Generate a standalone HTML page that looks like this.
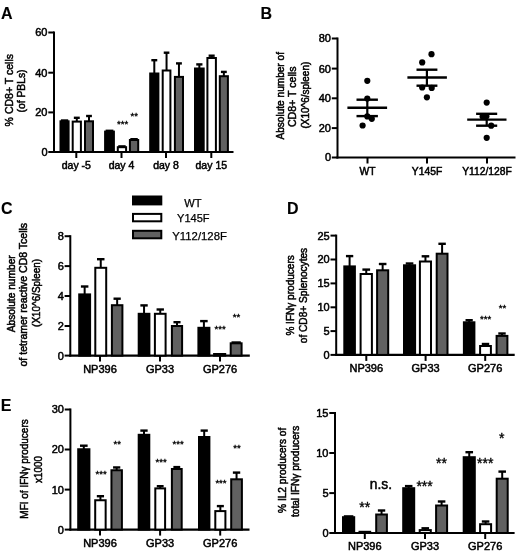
<!DOCTYPE html>
<html><head><meta charset="utf-8"><style>
html,body{margin:0;padding:0;background:#fff;}
svg{display:block;will-change:transform;filter:blur(0.3px);}
text{font-family:"Liberation Sans", sans-serif;fill:#000;stroke:#000;stroke-width:0.5px;}
</style></head><body>
<svg width="520" height="553" viewBox="0 0 520 553">
<rect width="520" height="553" fill="#fff"/>
<text x="1" y="18.5" font-size="16" font-weight="bold" style="stroke-width:0.1px">A</text>
<text x="260.6" y="18.5" font-size="16" font-weight="bold" style="stroke-width:0.1px">B</text>
<text x="1" y="213.5" font-size="16" font-weight="bold" style="stroke-width:0.1px">C</text>
<text x="286.9" y="213.8" font-size="16" font-weight="bold" style="stroke-width:0.1px">D</text>
<text x="0.7" y="410.8" font-size="16" font-weight="bold" style="stroke-width:0.1px">E</text>
<line x1="54" y1="31.5" x2="54" y2="153" stroke="#000" stroke-width="2"/>
<line x1="48.3" y1="32.5" x2="54" y2="32.5" stroke="#000" stroke-width="2"/>
<text x="47.5" y="36.4" font-size="11" text-anchor="end" >60</text>
<line x1="48.3" y1="72.7" x2="54" y2="72.7" stroke="#000" stroke-width="2"/>
<text x="47.5" y="76.60000000000001" font-size="11" text-anchor="end" >40</text>
<line x1="48.3" y1="112.4" x2="54" y2="112.4" stroke="#000" stroke-width="2"/>
<text x="47.5" y="116.30000000000001" font-size="11" text-anchor="end" >20</text>
<line x1="48.3" y1="152" x2="54" y2="152" stroke="#000" stroke-width="2"/>
<text x="47.5" y="155.9" font-size="11" text-anchor="end" >0</text>
<line x1="53" y1="152" x2="233.5" y2="152" stroke="#000" stroke-width="2.2"/>
<line x1="76.3" y1="152" x2="76.3" y2="158" stroke="#000" stroke-width="2"/>
<text x="76.3" y="168.5" font-size="10.5" text-anchor="middle" >day -5</text>
<line x1="121.5" y1="152" x2="121.5" y2="158" stroke="#000" stroke-width="2"/>
<text x="121.5" y="168.5" font-size="10.5" text-anchor="middle" >day 4</text>
<line x1="166" y1="152" x2="166" y2="158" stroke="#000" stroke-width="2"/>
<text x="166" y="168.5" font-size="10.5" text-anchor="middle" >day 8</text>
<line x1="211.3" y1="152" x2="211.3" y2="158" stroke="#000" stroke-width="2"/>
<text x="211.3" y="168.5" font-size="10.5" text-anchor="middle" >day 15</text>
<line x1="64.55000000000001" y1="121.3" x2="64.55000000000001" y2="120.5" stroke="#000" stroke-width="2"/>
<line x1="60.91400000000001" y1="120.5" x2="68.186" y2="120.5" stroke="#000" stroke-width="2.4"/>
<rect x="60.5" y="121.3" width="8.100000000000009" height="30.700000000000003" fill="#000" stroke="#000" stroke-width="2"/>
<line x1="76.80000000000001" y1="121.6" x2="76.80000000000001" y2="117.8" stroke="#000" stroke-width="2"/>
<line x1="73.84200000000001" y1="117.8" x2="79.75800000000001" y2="117.8" stroke="#000" stroke-width="2.4"/>
<rect x="72.7" y="121.6" width="8.200000000000003" height="30.400000000000006" fill="#fff" stroke="#000" stroke-width="2"/>
<line x1="89.0" y1="121.3" x2="89.0" y2="116.0" stroke="#000" stroke-width="2"/>
<line x1="86.1" y1="116.0" x2="91.9" y2="116.0" stroke="#000" stroke-width="2.4"/>
<rect x="85.0" y="121.3" width="8.0" height="30.700000000000003" fill="#616161" stroke="#000" stroke-width="2"/>
<line x1="109.5" y1="131.6" x2="109.5" y2="130.79999999999998" stroke="#000" stroke-width="2"/>
<line x1="105.612" y1="130.79999999999998" x2="113.388" y2="130.79999999999998" stroke="#000" stroke-width="2.4"/>
<rect x="105.10000000000001" y="131.6" width="8.799999999999997" height="20.400000000000006" fill="#000" stroke="#000" stroke-width="2"/>
<line x1="121.95" y1="147.2" x2="121.95" y2="146.39999999999998" stroke="#000" stroke-width="2"/>
<line x1="118.242" y1="146.39999999999998" x2="125.658" y2="146.39999999999998" stroke="#000" stroke-width="2.4"/>
<rect x="117.8" y="147.2" width="8.300000000000011" height="4.800000000000011" fill="#fff" stroke="#000" stroke-width="2"/>
<line x1="134.05" y1="140" x2="134.05" y2="139.2" stroke="#000" stroke-width="2"/>
<line x1="130.34199999999998" y1="139.2" x2="137.75800000000004" y2="139.2" stroke="#000" stroke-width="2.4"/>
<rect x="129.89999999999998" y="140" width="8.30000000000004" height="12" fill="#616161" stroke="#000" stroke-width="2"/>
<line x1="154.3" y1="73.5" x2="154.3" y2="60.2" stroke="#000" stroke-width="2"/>
<line x1="151.342" y1="60.2" x2="157.258" y2="60.2" stroke="#000" stroke-width="2.4"/>
<rect x="150.2" y="73.5" width="8.200000000000017" height="78.5" fill="#000" stroke="#000" stroke-width="2"/>
<line x1="166.55" y1="70.5" x2="166.55" y2="52.7" stroke="#000" stroke-width="2"/>
<line x1="163.737" y1="52.7" x2="169.36300000000003" y2="52.7" stroke="#000" stroke-width="2.4"/>
<rect x="162.7" y="70.5" width="7.700000000000017" height="81.5" fill="#fff" stroke="#000" stroke-width="2"/>
<line x1="178.95" y1="76.9" x2="178.95" y2="63.400000000000006" stroke="#000" stroke-width="2"/>
<line x1="176.021" y1="63.400000000000006" x2="181.879" y2="63.400000000000006" stroke="#000" stroke-width="2.4"/>
<rect x="174.89999999999998" y="76.9" width="8.100000000000023" height="75.1" fill="#616161" stroke="#000" stroke-width="2"/>
<line x1="199.35000000000002" y1="68.5" x2="199.35000000000002" y2="64.4" stroke="#000" stroke-width="2"/>
<line x1="196.247" y1="64.4" x2="202.45300000000003" y2="64.4" stroke="#000" stroke-width="2.4"/>
<rect x="195.0" y="68.5" width="8.700000000000017" height="83.5" fill="#000" stroke="#000" stroke-width="2"/>
<line x1="211.64999999999998" y1="58" x2="211.64999999999998" y2="55.7" stroke="#000" stroke-width="2"/>
<line x1="208.60499999999996" y1="55.7" x2="214.695" y2="55.7" stroke="#000" stroke-width="2.4"/>
<rect x="207.39999999999998" y="58" width="8.500000000000028" height="94" fill="#fff" stroke="#000" stroke-width="2"/>
<line x1="223.85" y1="76.2" x2="223.85" y2="71.9" stroke="#000" stroke-width="2"/>
<line x1="220.921" y1="71.9" x2="226.779" y2="71.9" stroke="#000" stroke-width="2.4"/>
<rect x="219.79999999999998" y="76.2" width="8.100000000000023" height="75.8" fill="#616161" stroke="#000" stroke-width="2"/>
<text x="122.6" y="127.372" font-size="9.6" text-anchor="middle" style="stroke-width:0.35px">***</text>
<text x="134.2" y="119.072" font-size="9.6" text-anchor="middle" style="stroke-width:0.35px">**</text>
<text x="12.7" y="90.2" font-size="10.9" text-anchor="middle" textLength="72.4" lengthAdjust="spacingAndGlyphs" transform="rotate(-90 12.7 90.2)" >% CD8+ T cells</text>
<text x="25" y="91" font-size="10.6" text-anchor="middle" textLength="43.1" lengthAdjust="spacingAndGlyphs" transform="rotate(-90 25 91)" >(of PBLs)</text>
<line x1="337.5" y1="37.5" x2="337.5" y2="158.5" stroke="#000" stroke-width="2"/>
<line x1="331.8" y1="38.5" x2="337.5" y2="38.5" stroke="#000" stroke-width="2"/>
<text x="331.0" y="42.4" font-size="11" text-anchor="end" >80</text>
<line x1="331.8" y1="68.6" x2="337.5" y2="68.6" stroke="#000" stroke-width="2"/>
<text x="331.0" y="72.5" font-size="11" text-anchor="end" >60</text>
<line x1="331.8" y1="98.3" x2="337.5" y2="98.3" stroke="#000" stroke-width="2"/>
<text x="331.0" y="102.2" font-size="11" text-anchor="end" >40</text>
<line x1="331.8" y1="128.1" x2="337.5" y2="128.1" stroke="#000" stroke-width="2"/>
<text x="331.0" y="132.0" font-size="11" text-anchor="end" >20</text>
<line x1="331.8" y1="157.5" x2="337.5" y2="157.5" stroke="#000" stroke-width="2"/>
<text x="331.0" y="161.4" font-size="11" text-anchor="end" >0</text>
<line x1="336.5" y1="157.5" x2="515.5" y2="157.5" stroke="#000" stroke-width="2.2"/>
<line x1="367.5" y1="157.5" x2="367.5" y2="163.5" stroke="#000" stroke-width="2"/>
<text x="367.5" y="175.3" font-size="10.3" text-anchor="middle" >WT</text>
<line x1="427" y1="157.5" x2="427" y2="163.5" stroke="#000" stroke-width="2"/>
<text x="427" y="175.3" font-size="10.3" text-anchor="middle" >Y145F</text>
<line x1="487" y1="157.5" x2="487" y2="163.5" stroke="#000" stroke-width="2"/>
<text x="487" y="175.3" font-size="10.3" text-anchor="middle" >Y112/128F</text>
<circle cx="367.3" cy="80.8" r="3.1" fill="#000"/>
<circle cx="367.3" cy="98.6" r="3.1" fill="#000"/>
<circle cx="367.3" cy="116.4" r="3.1" fill="#000"/>
<circle cx="371.8" cy="118.8" r="3.1" fill="#000"/>
<circle cx="362.6" cy="125.5" r="3.1" fill="#000"/>
<line x1="347.4" y1="107.8" x2="387.1" y2="107.8" stroke="#000" stroke-width="2.4"/>
<line x1="356.5" y1="99.7" x2="377.9" y2="99.7" stroke="#000" stroke-width="2.4"/>
<line x1="356.5" y1="116.1" x2="377.9" y2="116.1" stroke="#000" stroke-width="2.4"/>
<line x1="367.3" y1="99.7" x2="367.3" y2="116.1" stroke="#000" stroke-width="2.2"/>
<circle cx="431.5" cy="54.2" r="3.1" fill="#000"/>
<circle cx="422.2" cy="62.4" r="3.1" fill="#000"/>
<circle cx="422.2" cy="87.5" r="3.1" fill="#000"/>
<circle cx="431.7" cy="87.9" r="3.1" fill="#000"/>
<circle cx="426.9" cy="97.3" r="3.1" fill="#000"/>
<line x1="407.4" y1="77.5" x2="446.9" y2="77.5" stroke="#000" stroke-width="2.4"/>
<line x1="416.5" y1="69.7" x2="437.4" y2="69.7" stroke="#000" stroke-width="2.4"/>
<line x1="416.5" y1="85.7" x2="437.4" y2="85.7" stroke="#000" stroke-width="2.4"/>
<line x1="426.9" y1="69.7" x2="426.9" y2="85.7" stroke="#000" stroke-width="2.2"/>
<circle cx="486.7" cy="102.6" r="3.1" fill="#000"/>
<circle cx="482.6" cy="116.6" r="3.1" fill="#000"/>
<circle cx="486.4" cy="116.2" r="3.1" fill="#000"/>
<circle cx="491.2" cy="125.7" r="3.1" fill="#000"/>
<circle cx="486.7" cy="137.8" r="3.1" fill="#000"/>
<line x1="467.2" y1="119.6" x2="506.5" y2="119.6" stroke="#000" stroke-width="2.4"/>
<line x1="476.1" y1="113.8" x2="497.2" y2="113.8" stroke="#000" stroke-width="2.4"/>
<line x1="476.1" y1="125.7" x2="497.2" y2="125.7" stroke="#000" stroke-width="2.4"/>
<line x1="486.7" y1="113.8" x2="486.7" y2="125.7" stroke="#000" stroke-width="2.2"/>
<text x="284" y="95.8" font-size="10" text-anchor="middle" textLength="87.5" lengthAdjust="spacingAndGlyphs" transform="rotate(-90 284 95.8)" >Absolute number of</text>
<text x="296.1" y="96.8" font-size="10.4" text-anchor="middle" textLength="60.6" lengthAdjust="spacingAndGlyphs" transform="rotate(-90 296.1 96.8)" >CD8+ T cells</text>
<text x="308.8" y="95.1" font-size="10" text-anchor="middle" textLength="66.8" lengthAdjust="spacingAndGlyphs" transform="rotate(-90 308.8 95.1)" >(X10^6/spleen)</text>
<rect x="133" y="196.5" width="28.3" height="7.9" fill="#000" stroke="#000" stroke-width="2"/>
<rect x="133" y="213.9" width="28.3" height="7.4" fill="#fff" stroke="#000" stroke-width="2"/>
<rect x="133" y="230.8" width="28.3" height="7.5" fill="#616161" stroke="#000" stroke-width="2"/>
<text x="184.3" y="206.7" font-size="11.2" textLength="17.3" lengthAdjust="spacingAndGlyphs" style="stroke-width:0.25px">WT</text>
<text x="177" y="222.2" font-size="11.2" textLength="32.6" lengthAdjust="spacingAndGlyphs" style="stroke-width:0.25px">Y145F</text>
<text x="172.3" y="239.6" font-size="11.2" textLength="54.6" lengthAdjust="spacingAndGlyphs" style="stroke-width:0.25px">Y112/128F</text>
<line x1="70.3" y1="235.2" x2="70.3" y2="356.6" stroke="#000" stroke-width="2"/>
<line x1="64.6" y1="236.2" x2="70.3" y2="236.2" stroke="#000" stroke-width="2"/>
<text x="63.8" y="240.1" font-size="11" text-anchor="end" >8</text>
<line x1="64.6" y1="266.1" x2="70.3" y2="266.1" stroke="#000" stroke-width="2"/>
<text x="63.8" y="270.0" font-size="11" text-anchor="end" >6</text>
<line x1="64.6" y1="296" x2="70.3" y2="296" stroke="#000" stroke-width="2"/>
<text x="63.8" y="299.9" font-size="11" text-anchor="end" >4</text>
<line x1="64.6" y1="326" x2="70.3" y2="326" stroke="#000" stroke-width="2"/>
<text x="63.8" y="329.9" font-size="11" text-anchor="end" >2</text>
<line x1="64.6" y1="355.6" x2="70.3" y2="355.6" stroke="#000" stroke-width="2"/>
<text x="63.8" y="359.5" font-size="11" text-anchor="end" >0</text>
<line x1="69.3" y1="355.6" x2="249.8" y2="355.6" stroke="#000" stroke-width="2.2"/>
<line x1="100" y1="355.6" x2="100" y2="361.6" stroke="#000" stroke-width="2"/>
<text x="100" y="372.6" font-size="11" text-anchor="middle" >NP396</text>
<line x1="160" y1="355.6" x2="160" y2="361.6" stroke="#000" stroke-width="2"/>
<text x="160" y="372.6" font-size="11" text-anchor="middle" >GP33</text>
<line x1="220" y1="355.6" x2="220" y2="361.6" stroke="#000" stroke-width="2"/>
<text x="220" y="372.6" font-size="11" text-anchor="middle" >GP276</text>
<line x1="84.65" y1="294.4" x2="84.65" y2="286.5" stroke="#000" stroke-width="2"/>
<line x1="80.909" y1="286.5" x2="88.391" y2="286.5" stroke="#000" stroke-width="2.4"/>
<rect x="79.2" y="294.4" width="10.900000000000006" height="61.200000000000045" fill="#000" stroke="#000" stroke-width="2"/>
<line x1="100.75" y1="267.8" x2="100.75" y2="259.2" stroke="#000" stroke-width="2"/>
<line x1="97.009" y1="259.2" x2="104.491" y2="259.2" stroke="#000" stroke-width="2.4"/>
<rect x="95.3" y="267.8" width="10.900000000000006" height="87.80000000000001" fill="#fff" stroke="#000" stroke-width="2"/>
<line x1="117.15" y1="305.2" x2="117.15" y2="298.7" stroke="#000" stroke-width="2"/>
<line x1="113.525" y1="298.7" x2="120.775" y2="298.7" stroke="#000" stroke-width="2.4"/>
<rect x="111.9" y="305.2" width="10.5" height="50.400000000000034" fill="#616161" stroke="#000" stroke-width="2"/>
<line x1="144.05" y1="313.8" x2="144.05" y2="305.4" stroke="#000" stroke-width="2"/>
<line x1="140.36700000000002" y1="305.4" x2="147.733" y2="305.4" stroke="#000" stroke-width="2.4"/>
<rect x="138.7" y="313.8" width="10.700000000000017" height="41.80000000000001" fill="#000" stroke="#000" stroke-width="2"/>
<line x1="160.25" y1="313.8" x2="160.25" y2="309.5" stroke="#000" stroke-width="2"/>
<line x1="156.567" y1="309.5" x2="163.933" y2="309.5" stroke="#000" stroke-width="2.4"/>
<rect x="154.89999999999998" y="313.8" width="10.700000000000017" height="41.80000000000001" fill="#fff" stroke="#000" stroke-width="2"/>
<line x1="177.0" y1="326" x2="177.0" y2="322.2" stroke="#000" stroke-width="2"/>
<line x1="173.462" y1="322.2" x2="180.538" y2="322.2" stroke="#000" stroke-width="2.4"/>
<rect x="171.89999999999998" y="326" width="10.200000000000017" height="29.600000000000023" fill="#616161" stroke="#000" stroke-width="2"/>
<line x1="203.89999999999998" y1="327.8" x2="203.89999999999998" y2="321.09999999999997" stroke="#000" stroke-width="2"/>
<line x1="200.12999999999997" y1="321.09999999999997" x2="207.67" y2="321.09999999999997" stroke="#000" stroke-width="2.4"/>
<rect x="198.39999999999998" y="327.8" width="11.000000000000028" height="27.80000000000001" fill="#000" stroke="#000" stroke-width="2"/>
<rect x="214.1" y="354" width="11.100000000000023" height="1.6000000000000227" fill="#fff" stroke="#000" stroke-width="2"/>
<line x1="236.14999999999998" y1="343.3" x2="236.14999999999998" y2="342.5" stroke="#000" stroke-width="2"/>
<line x1="231.50599999999997" y1="342.5" x2="240.79399999999998" y2="342.5" stroke="#000" stroke-width="2.4"/>
<rect x="230.7" y="343.3" width="10.900000000000006" height="12.300000000000011" fill="#616161" stroke="#000" stroke-width="2"/>
<text x="220.2" y="332.472" font-size="9.6" text-anchor="middle" style="stroke-width:0.35px">***</text>
<text x="236.6" y="319.67199999999997" font-size="9.6" text-anchor="middle" style="stroke-width:0.35px">**</text>
<text x="15.5" y="293.8" font-size="10.2" text-anchor="middle" textLength="77" lengthAdjust="spacingAndGlyphs" transform="rotate(-90 15.5 293.8)" >Absolute number</text>
<text x="27.4" y="294.7" font-size="10.2" text-anchor="middle" textLength="143.6" lengthAdjust="spacingAndGlyphs" transform="rotate(-90 27.4 294.7)" >of tetramer reactive CD8 Tcells</text>
<text x="40.4" y="292.9" font-size="10.2" text-anchor="middle" textLength="68" lengthAdjust="spacingAndGlyphs" transform="rotate(-90 40.4 292.9)" >(X10^6/Spleen)</text>
<line x1="336.2" y1="234.6" x2="336.2" y2="355.9" stroke="#000" stroke-width="2"/>
<line x1="330.5" y1="235.6" x2="336.2" y2="235.6" stroke="#000" stroke-width="2"/>
<text x="329.7" y="239.5" font-size="11" text-anchor="end" >25</text>
<line x1="330.5" y1="259.5" x2="336.2" y2="259.5" stroke="#000" stroke-width="2"/>
<text x="329.7" y="263.4" font-size="11" text-anchor="end" >20</text>
<line x1="330.5" y1="283.4" x2="336.2" y2="283.4" stroke="#000" stroke-width="2"/>
<text x="329.7" y="287.29999999999995" font-size="11" text-anchor="end" >15</text>
<line x1="330.5" y1="307.3" x2="336.2" y2="307.3" stroke="#000" stroke-width="2"/>
<text x="329.7" y="311.2" font-size="11" text-anchor="end" >10</text>
<line x1="330.5" y1="331.1" x2="336.2" y2="331.1" stroke="#000" stroke-width="2"/>
<text x="329.7" y="335.0" font-size="11" text-anchor="end" >5</text>
<line x1="330.5" y1="354.9" x2="336.2" y2="354.9" stroke="#000" stroke-width="2"/>
<text x="329.7" y="358.79999999999995" font-size="11" text-anchor="end" >0</text>
<line x1="335.2" y1="354.9" x2="514.7" y2="354.9" stroke="#000" stroke-width="2.2"/>
<line x1="366.3" y1="354.9" x2="366.3" y2="360.9" stroke="#000" stroke-width="2"/>
<text x="366.3" y="371.9" font-size="11" text-anchor="middle" >NP396</text>
<line x1="425.6" y1="354.9" x2="425.6" y2="360.9" stroke="#000" stroke-width="2"/>
<text x="425.6" y="371.9" font-size="11" text-anchor="middle" >GP33</text>
<line x1="485.2" y1="354.9" x2="485.2" y2="360.9" stroke="#000" stroke-width="2"/>
<text x="485.2" y="371.9" font-size="11" text-anchor="middle" >GP276</text>
<line x1="349.6" y1="266.4" x2="349.6" y2="256.1" stroke="#000" stroke-width="2"/>
<line x1="345.946" y1="256.1" x2="353.254" y2="256.1" stroke="#000" stroke-width="2.4"/>
<rect x="344.3" y="266.4" width="10.599999999999966" height="88.5" fill="#000" stroke="#000" stroke-width="2"/>
<line x1="366.25" y1="274" x2="366.25" y2="269.59999999999997" stroke="#000" stroke-width="2"/>
<line x1="362.393" y1="269.59999999999997" x2="370.107" y2="269.59999999999997" stroke="#000" stroke-width="2.4"/>
<rect x="360.59999999999997" y="274" width="11.300000000000011" height="80.89999999999998" fill="#fff" stroke="#000" stroke-width="2"/>
<line x1="382.65" y1="270.3" x2="382.65" y2="264.0" stroke="#000" stroke-width="2"/>
<line x1="378.851" y1="264.0" x2="386.44899999999996" y2="264.0" stroke="#000" stroke-width="2.4"/>
<rect x="377.09999999999997" y="270.3" width="11.100000000000023" height="84.59999999999997" fill="#616161" stroke="#000" stroke-width="2"/>
<line x1="409.54999999999995" y1="265.3" x2="409.54999999999995" y2="263.5" stroke="#000" stroke-width="2"/>
<line x1="405.751" y1="263.5" x2="413.34899999999993" y2="263.5" stroke="#000" stroke-width="2.4"/>
<rect x="404.0" y="265.3" width="11.099999999999966" height="89.59999999999997" fill="#000" stroke="#000" stroke-width="2"/>
<line x1="425.45" y1="261.5" x2="425.45" y2="256.3" stroke="#000" stroke-width="2"/>
<line x1="421.651" y1="256.3" x2="429.24899999999997" y2="256.3" stroke="#000" stroke-width="2.4"/>
<rect x="419.9" y="261.5" width="11.100000000000023" height="93.39999999999998" fill="#fff" stroke="#000" stroke-width="2"/>
<line x1="442.1" y1="253.7" x2="442.1" y2="243.79999999999998" stroke="#000" stroke-width="2"/>
<line x1="438.38800000000003" y1="243.79999999999998" x2="445.812" y2="243.79999999999998" stroke="#000" stroke-width="2.4"/>
<rect x="436.7" y="253.7" width="10.800000000000011" height="101.19999999999999" fill="#616161" stroke="#000" stroke-width="2"/>
<line x1="469.15" y1="322.3" x2="469.15" y2="320.2" stroke="#000" stroke-width="2"/>
<line x1="465.525" y1="320.2" x2="472.775" y2="320.2" stroke="#000" stroke-width="2.4"/>
<rect x="463.9" y="322.3" width="10.5" height="32.599999999999966" fill="#000" stroke="#000" stroke-width="2"/>
<line x1="485.5" y1="346" x2="485.5" y2="344.0" stroke="#000" stroke-width="2"/>
<line x1="481.788" y1="344.0" x2="489.212" y2="344.0" stroke="#000" stroke-width="2.4"/>
<rect x="480.09999999999997" y="346" width="10.800000000000011" height="8.899999999999977" fill="#fff" stroke="#000" stroke-width="2"/>
<line x1="502.0" y1="335.9" x2="502.0" y2="333.5" stroke="#000" stroke-width="2"/>
<line x1="498.288" y1="333.5" x2="505.712" y2="333.5" stroke="#000" stroke-width="2.4"/>
<rect x="496.59999999999997" y="335.9" width="10.800000000000011" height="19.0" fill="#616161" stroke="#000" stroke-width="2"/>
<text x="485.7" y="321.67199999999997" font-size="9.6" text-anchor="middle" style="stroke-width:0.35px">***</text>
<text x="502.6" y="310.87199999999996" font-size="9.6" text-anchor="middle" style="stroke-width:0.35px">**</text>
<text x="294.2" y="295.4" font-size="10.8" text-anchor="middle" textLength="80.4" lengthAdjust="spacingAndGlyphs" transform="rotate(-90 294.2 295.4)" >% IFNγ producers</text>
<text x="306.6" y="295.5" font-size="10.8" text-anchor="middle" textLength="95.4" lengthAdjust="spacingAndGlyphs" transform="rotate(-90 306.6 295.5)" >of CD8+ Splenocytes</text>
<line x1="70.4" y1="408.5" x2="70.4" y2="530.6" stroke="#000" stroke-width="2"/>
<line x1="64.7" y1="409.5" x2="70.4" y2="409.5" stroke="#000" stroke-width="2"/>
<text x="63.900000000000006" y="413.4" font-size="11" text-anchor="end" >30</text>
<line x1="64.7" y1="449.5" x2="70.4" y2="449.5" stroke="#000" stroke-width="2"/>
<text x="63.900000000000006" y="453.4" font-size="11" text-anchor="end" >20</text>
<line x1="64.7" y1="489.6" x2="70.4" y2="489.6" stroke="#000" stroke-width="2"/>
<text x="63.900000000000006" y="493.5" font-size="11" text-anchor="end" >10</text>
<line x1="64.7" y1="529.6" x2="70.4" y2="529.6" stroke="#000" stroke-width="2"/>
<text x="63.900000000000006" y="533.5" font-size="11" text-anchor="end" >0</text>
<line x1="69.4" y1="529.6" x2="249.5" y2="529.6" stroke="#000" stroke-width="2.2"/>
<line x1="100" y1="529.6" x2="100" y2="535.6" stroke="#000" stroke-width="2"/>
<text x="100" y="546.6" font-size="11" text-anchor="middle" >NP396</text>
<line x1="160.1" y1="529.6" x2="160.1" y2="535.6" stroke="#000" stroke-width="2"/>
<text x="160.1" y="546.6" font-size="11" text-anchor="middle" >GP33</text>
<line x1="220.2" y1="529.6" x2="220.2" y2="535.6" stroke="#000" stroke-width="2"/>
<text x="220.2" y="546.6" font-size="11" text-anchor="middle" >GP276</text>
<line x1="83.80000000000001" y1="449.25" x2="83.80000000000001" y2="445.7" stroke="#000" stroke-width="2"/>
<line x1="79.97200000000001" y1="445.7" x2="87.62800000000001" y2="445.7" stroke="#000" stroke-width="2.4"/>
<rect x="78.2" y="449.25" width="11.200000000000003" height="80.35000000000002" fill="#000" stroke="#000" stroke-width="2"/>
<line x1="100.42500000000001" y1="500.25" x2="100.42500000000001" y2="496.2" stroke="#000" stroke-width="2"/>
<line x1="96.81450000000001" y1="496.2" x2="104.03550000000001" y2="496.2" stroke="#000" stroke-width="2.4"/>
<rect x="95.2" y="500.25" width="10.450000000000003" height="29.350000000000023" fill="#fff" stroke="#000" stroke-width="2"/>
<line x1="116.67500000000001" y1="470.25" x2="116.67500000000001" y2="467.45" stroke="#000" stroke-width="2"/>
<line x1="113.06450000000001" y1="467.45" x2="120.28550000000001" y2="467.45" stroke="#000" stroke-width="2.4"/>
<rect x="111.45" y="470.25" width="10.450000000000003" height="59.35000000000002" fill="#616161" stroke="#000" stroke-width="2"/>
<line x1="144.0" y1="434.8" x2="144.0" y2="430.59999999999997" stroke="#000" stroke-width="2"/>
<line x1="140.346" y1="430.59999999999997" x2="147.654" y2="430.59999999999997" stroke="#000" stroke-width="2.4"/>
<rect x="138.7" y="434.8" width="10.600000000000023" height="94.80000000000001" fill="#000" stroke="#000" stroke-width="2"/>
<line x1="160.2" y1="488.4" x2="160.2" y2="486.2" stroke="#000" stroke-width="2"/>
<line x1="156.778" y1="486.2" x2="163.62199999999999" y2="486.2" stroke="#000" stroke-width="2.4"/>
<rect x="155.29999999999998" y="488.4" width="9.800000000000011" height="41.200000000000045" fill="#fff" stroke="#000" stroke-width="2"/>
<line x1="176.8" y1="469" x2="176.8" y2="467.09999999999997" stroke="#000" stroke-width="2"/>
<line x1="173.378" y1="467.09999999999997" x2="180.22200000000004" y2="467.09999999999997" stroke="#000" stroke-width="2.4"/>
<rect x="171.89999999999998" y="469" width="9.80000000000004" height="60.60000000000002" fill="#616161" stroke="#000" stroke-width="2"/>
<line x1="204.2" y1="437" x2="204.2" y2="430.59999999999997" stroke="#000" stroke-width="2"/>
<line x1="200.60399999999998" y1="430.59999999999997" x2="207.796" y2="430.59999999999997" stroke="#000" stroke-width="2.4"/>
<rect x="199.0" y="437" width="10.400000000000006" height="92.60000000000002" fill="#000" stroke="#000" stroke-width="2"/>
<line x1="220.35" y1="511.1" x2="220.35" y2="506.09999999999997" stroke="#000" stroke-width="2"/>
<line x1="216.84099999999998" y1="506.09999999999997" x2="223.859" y2="506.09999999999997" stroke="#000" stroke-width="2.4"/>
<rect x="215.29999999999998" y="511.1" width="10.100000000000023" height="18.5" fill="#fff" stroke="#000" stroke-width="2"/>
<line x1="236.55" y1="479.3" x2="236.55" y2="472.59999999999997" stroke="#000" stroke-width="2"/>
<line x1="232.86700000000002" y1="472.59999999999997" x2="240.233" y2="472.59999999999997" stroke="#000" stroke-width="2.4"/>
<rect x="231.2" y="479.3" width="10.700000000000017" height="50.30000000000001" fill="#616161" stroke="#000" stroke-width="2"/>
<text x="101.2" y="477.17199999999997" font-size="9.6" text-anchor="middle" style="stroke-width:0.35px">***</text>
<text x="117.2" y="446.67199999999997" font-size="9.6" text-anchor="middle" style="stroke-width:0.35px">**</text>
<text x="161.2" y="464.972" font-size="9.6" text-anchor="middle" style="stroke-width:0.35px">***</text>
<text x="178.1" y="446.67199999999997" font-size="9.6" text-anchor="middle" style="stroke-width:0.35px">***</text>
<text x="221" y="486.272" font-size="9.6" text-anchor="middle" style="stroke-width:0.35px">***</text>
<text x="237.1" y="450.87199999999996" font-size="9.6" text-anchor="middle" style="stroke-width:0.35px">**</text>
<text x="28.3" y="469" font-size="11" text-anchor="middle" textLength="99.4" lengthAdjust="spacingAndGlyphs" transform="rotate(-90 28.3 469)" >MFI of IFNγ producers</text>
<text x="41.6" y="469.5" font-size="11" text-anchor="middle" textLength="26.8" lengthAdjust="spacingAndGlyphs" transform="rotate(-90 41.6 469.5)" >x1000</text>
<line x1="335" y1="412" x2="335" y2="534" stroke="#000" stroke-width="2"/>
<line x1="329.3" y1="413" x2="335" y2="413" stroke="#000" stroke-width="2"/>
<text x="328.5" y="416.9" font-size="11" text-anchor="end" >15</text>
<line x1="329.3" y1="453" x2="335" y2="453" stroke="#000" stroke-width="2"/>
<text x="328.5" y="456.9" font-size="11" text-anchor="end" >10</text>
<line x1="329.3" y1="493.1" x2="335" y2="493.1" stroke="#000" stroke-width="2"/>
<text x="328.5" y="497.0" font-size="11" text-anchor="end" >5</text>
<line x1="329.3" y1="533" x2="335" y2="533" stroke="#000" stroke-width="2"/>
<text x="328.5" y="536.9" font-size="11" text-anchor="end" >0</text>
<line x1="334" y1="533" x2="514.6" y2="533" stroke="#000" stroke-width="2.2"/>
<line x1="364.8" y1="533" x2="364.8" y2="539" stroke="#000" stroke-width="2"/>
<text x="364.8" y="550" font-size="11" text-anchor="middle" >NP396</text>
<line x1="425" y1="533" x2="425" y2="539" stroke="#000" stroke-width="2"/>
<text x="425" y="550" font-size="11" text-anchor="middle" >GP33</text>
<line x1="485.2" y1="533" x2="485.2" y2="539" stroke="#000" stroke-width="2"/>
<text x="485.2" y="550" font-size="11" text-anchor="middle" >GP276</text>
<line x1="348.6" y1="517.2" x2="348.6" y2="516.4000000000001" stroke="#000" stroke-width="2"/>
<line x1="343.848" y1="516.4000000000001" x2="353.35200000000003" y2="516.4000000000001" stroke="#000" stroke-width="2.4"/>
<rect x="343.0" y="517.2" width="11.199999999999989" height="15.799999999999955" fill="#000" stroke="#000" stroke-width="2"/>
<rect x="359.5" y="531.8" width="10.699999999999989" height="1.2000000000000455" fill="#fff" stroke="#000" stroke-width="2"/>
<line x1="381.54999999999995" y1="514.5" x2="381.54999999999995" y2="510.5" stroke="#000" stroke-width="2"/>
<line x1="377.86699999999996" y1="510.5" x2="385.23299999999995" y2="510.5" stroke="#000" stroke-width="2.4"/>
<rect x="376.2" y="514.5" width="10.699999999999989" height="18.5" fill="#616161" stroke="#000" stroke-width="2"/>
<line x1="408.7" y1="488.2" x2="408.7" y2="486.09999999999997" stroke="#000" stroke-width="2"/>
<line x1="404.93" y1="486.09999999999997" x2="412.46999999999997" y2="486.09999999999997" stroke="#000" stroke-width="2.4"/>
<rect x="403.2" y="488.2" width="11.0" height="44.80000000000001" fill="#000" stroke="#000" stroke-width="2"/>
<line x1="425.25" y1="530.1" x2="425.25" y2="528.3000000000001" stroke="#000" stroke-width="2"/>
<line x1="421.451" y1="528.3000000000001" x2="429.049" y2="528.3000000000001" stroke="#000" stroke-width="2.4"/>
<rect x="419.7" y="530.1" width="11.099999999999966" height="2.8999999999999773" fill="#fff" stroke="#000" stroke-width="2"/>
<line x1="441.59999999999997" y1="505.5" x2="441.59999999999997" y2="501.5" stroke="#000" stroke-width="2"/>
<line x1="437.83" y1="501.5" x2="445.36999999999995" y2="501.5" stroke="#000" stroke-width="2.4"/>
<rect x="436.09999999999997" y="505.5" width="11.0" height="27.5" fill="#616161" stroke="#000" stroke-width="2"/>
<line x1="469.25" y1="457.2" x2="469.25" y2="452.2" stroke="#000" stroke-width="2"/>
<line x1="465.451" y1="452.2" x2="473.049" y2="452.2" stroke="#000" stroke-width="2.4"/>
<rect x="463.7" y="457.2" width="11.099999999999966" height="75.80000000000001" fill="#000" stroke="#000" stroke-width="2"/>
<line x1="485.59999999999997" y1="524.2" x2="485.59999999999997" y2="521.5" stroke="#000" stroke-width="2"/>
<line x1="481.83" y1="521.5" x2="489.36999999999995" y2="521.5" stroke="#000" stroke-width="2.4"/>
<rect x="480.09999999999997" y="524.2" width="11.0" height="8.799999999999955" fill="#fff" stroke="#000" stroke-width="2"/>
<line x1="502.2" y1="478.7" x2="502.2" y2="471.59999999999997" stroke="#000" stroke-width="2"/>
<line x1="498.43" y1="471.59999999999997" x2="505.96999999999997" y2="471.59999999999997" stroke="#000" stroke-width="2.4"/>
<rect x="496.7" y="478.7" width="11.0" height="54.30000000000001" fill="#616161" stroke="#000" stroke-width="2"/>
<text x="364.75" y="512.08" font-size="14" text-anchor="middle" style="stroke-width:0.35px">**</text>
<text x="369.7" y="488.8" font-size="14" textLength="22.3" lengthAdjust="spacingAndGlyphs" >n.s.</text>
<text x="424.6" y="491.38" font-size="14" text-anchor="middle" style="stroke-width:0.35px">***</text>
<text x="441.5" y="467.58" font-size="14" text-anchor="middle" style="stroke-width:0.35px">**</text>
<text x="485.2" y="467.98" font-size="14" text-anchor="middle" style="stroke-width:0.35px">***</text>
<text x="501.7" y="443.38" font-size="14" text-anchor="middle" style="stroke-width:0.35px">*</text>
<text x="286.1" y="470.3" font-size="10.3" text-anchor="middle" textLength="85.3" lengthAdjust="spacingAndGlyphs" transform="rotate(-90 286.1 470.3)" >% IL2 producers of</text>
<text x="299.2" y="471.4" font-size="10" text-anchor="middle" textLength="91.3" lengthAdjust="spacingAndGlyphs" transform="rotate(-90 299.2 471.4)" >total IFNγ producers</text>
</svg>
</body></html>
